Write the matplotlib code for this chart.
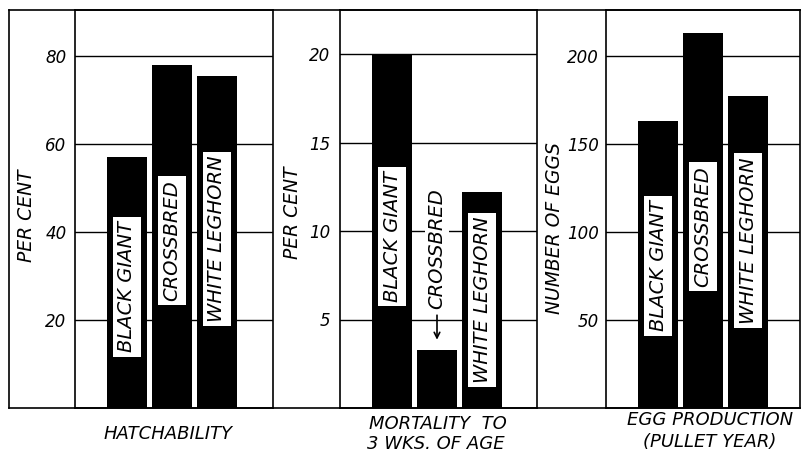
import matplotlib
matplotlib.use('Agg')
import matplotlib.pyplot as plt
from matplotlib.lines import Line2D

# data
breeds = ['BLACK GIANT', 'CROSSBRED', 'WHITE LEGHORN']
hatchability = [57, 78, 75.5]       # per cent
mortality = [20, 3.3, 12.2]         # per cent to 3 weeks
eggs = [163, 213, 177]              # eggs per pullet year

hatch_ticks = [20, 40, 60, 80]
mort_ticks = [5, 10, 15, 20]
egg_ticks = [50, 100, 150, 200]

W, H = 805, 455
fig = plt.figure(figsize=(W / 100, H / 100), dpi=100)
fig.patch.set_facecolor('white')

TOP, BOT = 10, 408          # pixel rows of frame
FONT = dict(family='DejaVu Sans', style='italic', color='black')


def fx(px):
    return px / W


def fy(py):
    return 1 - py / H


def panel(x0, x1, values, ticks, ymax, label_y, pad, skip_box=None):
    ax = fig.add_axes([fx(x0), fy(BOT), fx(x1 - x0), fy(TOP) - fy(BOT)])
    x = range(len(values))
    ax.bar(x, values, width=0.9, color='black', zorder=3)
    left = -52 / 45
    ax.set_xlim(left, left + (x1 - x0) / 45)
    ax.set_ylim(0, ymax)
    ax.set_xticks([])
    ax.set_yticks(ticks)
    ax.set_yticklabels([str(t) for t in ticks], fontsize=12, **FONT)
    ax.tick_params(axis='y', length=0, pad=pad)
    ax.yaxis.grid(True, color='black', linewidth=1, zorder=1)
    ax.set_axisbelow(True)
    for s in ax.spines.values():
        s.set_linewidth(1.2)
    for i, (name, yy) in enumerate(zip(breeds, label_y)):
        if i == skip_box:
            continue
        ax.text(i, yy, name, rotation=90, ha='center', va='center',
                fontsize=14, zorder=5, **FONT,
                bbox=dict(facecolor='white', edgecolor='none', pad=3))
    return ax


ax1 = panel(75, 273, hatchability, hatch_ticks, 398 / 4.4,
            [27.5, 38, 38.4], 6)
ax2 = panel(340, 537, mortality, mort_ticks, 398 / 17.7,
            [9.7, 0, 6.1], 7, skip_box=1)
ax3 = panel(606, 800, eggs, egg_ticks, 398 / 1.76,
            [80.7, 103, 95], 5)

# crossbred label sits above its short bar with an arrow
ax2.text(1, 9.0, breeds[1], rotation=90, ha='center', va='center',
         fontsize=14, zorder=5, **FONT,
         bbox=dict(facecolor='white', edgecolor='none', pad=2))
ax2.annotate('', xy=(1, 3.7), xytext=(1, 5.4),
             arrowprops=dict(arrowstyle='->', color='black', lw=1.2),
             zorder=5)

# outer frame
fig.add_artist(Line2D([fx(9), fx(800)], [fy(TOP), fy(TOP)], color='black', lw=1.2))
fig.add_artist(Line2D([fx(9), fx(800)], [fy(BOT), fy(BOT)], color='black', lw=1.2))
fig.add_artist(Line2D([fx(9), fx(9)], [fy(BOT), fy(TOP)], color='black', lw=1.2))

# axis titles
fig.text(fx(27), fy(216), 'PER CENT', rotation=90, ha='center', va='center',
         fontsize=13.5, **FONT)
fig.text(fx(293), fy(213), 'PER CENT', rotation=90, ha='center', va='center',
         fontsize=13.5, **FONT)
fig.text(fx(555), fy(228), 'NUMBER OF EGGS', rotation=90, ha='center',
         va='center', fontsize=13.5, **FONT)

fig.text(fx(168), fy(434), 'HATCHABILITY', ha='center', va='center',
         fontsize=13, **FONT)
fig.text(fx(438), fy(424), 'MORTALITY  TO', ha='center', va='center',
         fontsize=13, **FONT)
fig.text(fx(436), fy(444), '3 WKS. OF AGE', ha='center', va='center',
         fontsize=13, **FONT)
fig.text(fx(710), fy(420), 'EGG PRODUCTION', ha='center', va='center',
         fontsize=13, **FONT)
fig.text(fx(710), fy(442), '(PULLET YEAR)', ha='center', va='center',
         fontsize=13, **FONT)

fig.savefig('out.png', dpi=100, facecolor='white')
